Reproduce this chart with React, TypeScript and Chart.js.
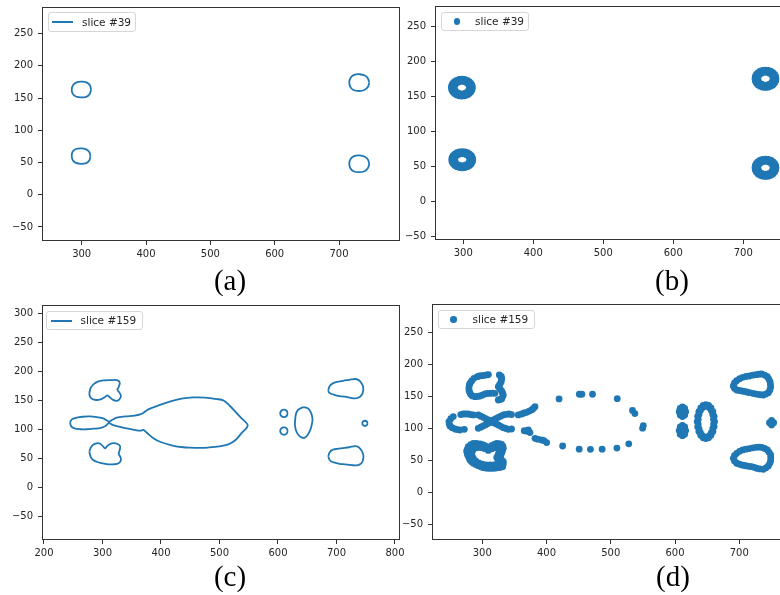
import React, { useEffect, useRef } from "react";
import { Chart, registerables } from "chart.js";

Chart.register(...registerables);

type P = [number, number];

const BLUE = "#1f77b4";

// ---------- tick labels ----------
const xTicksA = [300, 400, 500, 600, 700];
const yTicksA = [-50, 0, 50, 100, 150, 200, 250];
const xTicksB = [300, 400, 500, 600, 700];
const yTicksB = [-50, 0, 50, 100, 150, 200, 250];
const xTicksC = [200, 300, 400, 500, 600, 700, 800];
const yTicksC = [-50, 0, 50, 100, 150, 200, 250, 300];
const xTicksD = [300, 400, 500, 600, 700];
const yTicksD = [-50, 0, 50, 100, 150, 200, 250];

// ---------- (a) slice #39 contour ----------
const aUpperLeft: P[] = [[314.5,163],[313,169.5],[308,174],[300,175.5],[292,174.5],[286.5,170],[284.5,163.5],[286,157],[291,152.5],[299,151],[307,152],[312.5,156.5],[314.5,163]];
const aLowerLeft: P[] = [[313.5,60],[312,66],[307,70.5],[299,72],[291,71],[286,67],[284.5,60.5],[286,54],[291,49.5],[299,48],[307,49],[312,53.5],[313.5,60]];
const aUpperRight: P[] = [[747,174],[745,180.5],[740,185],[732,187],[723.5,186],[718,181.5],[716,174.5],[717.5,167.5],[722.5,162.5],[731,161],[739.5,162.5],[745,167.5],[747,174]];
const aLowerRight: P[] = [[747,48],[745,54.5],[740,59],[732,61],[723.5,60],[718,55.5],[716,48.5],[717.5,41.5],[722.5,36.5],[731,35],[739.5,36.5],[745,41.5],[747,48]];

// ---------- (b) slice #39 points ----------
const bUpperLeft: P[] = [[313,162],[312.5,165.1],[311,168],[308.6,170.5],[305.5,172.4],[301.9,173.6],[298,174],[294.1,173.6],[290.5,172.4],[287.4,170.5],[285,168],[283.5,165.1],[283,162],[283.5,158.9],[285,156],[287.4,153.5],[290.5,151.6],[294.1,150.4],[298,150],[301.9,150.4],[305.5,151.6],[308.6,153.5],[311,156],[312.5,158.9],
  [309,162],[307.5,166.5],[303.5,169.6],[298,170.8],[292.5,169.6],[288.5,166.5],[287,162],[288.5,157.5],[292.5,154.4],[298,153.2],[303.5,154.4],[307.5,157.5]];
const bLowerLeft: P[] = [[313.5,59],[313,62],[311.5,64.8],[309.1,67.1],[306,69],[302.4,70.1],[298.5,70.5],[294.6,70.1],[291,69],[287.9,67.1],[285.5,64.8],[284,62],[283.5,59],[284,56],[285.5,53.2],[287.9,50.9],[291,49],[294.6,47.9],[298.5,47.5],[302.4,47.9],[306,49],[309.1,50.9],[311.5,53.2],[313,56],
  [309.5,59],[308,63.3],[304,66.4],[298.5,67.5],[293,66.4],[289,63.3],[287.5,59],[289,54.7],[293,51.6],[298.5,50.5],[304,51.6],[308,54.7]];
const bUpperRight: P[] = [[746.7,174.7],[746.2,177.9],[744.7,180.9],[742.3,183.5],[739.2,185.4],[735.6,186.7],[731.7,187.1],[727.8,186.7],[724.2,185.4],[721.1,183.5],[718.7,180.9],[717.2,177.9],[716.7,174.7],[717.2,171.5],[718.7,168.5],[721.1,165.9],[724.2,164],[727.8,162.7],[731.7,162.3],[735.6,162.7],[739.2,164],[742.3,165.9],[744.7,168.5],[746.2,171.5],
  [742.7,174.7],[741.2,179.3],[737.2,182.6],[731.7,183.8],[726.2,182.6],[722.2,179.3],[720.7,174.7],[722.2,170.1],[726.2,166.8],[731.7,165.6],[737.2,166.8],[741.2,170.1]];
const bLowerRight: P[] = [[746.7,47.5],[746.2,50.7],[744.7,53.7],[742.3,56.3],[739.2,58.2],[735.6,59.5],[731.7,59.9],[727.8,59.5],[724.2,58.2],[721.1,56.3],[718.7,53.7],[717.2,50.7],[716.7,47.5],[717.2,44.3],[718.7,41.3],[721.1,38.7],[724.2,36.8],[727.8,35.5],[731.7,35.1],[735.6,35.5],[739.2,36.8],[742.3,38.7],[744.7,41.3],[746.2,44.3],
  [742.7,47.5],[741.2,52.1],[737.2,55.4],[731.7,56.6],[726.2,55.4],[722.2,52.1],[720.7,47.5],[722.2,42.9],[726.2,39.6],[731.7,38.4],[737.2,39.6],[741.2,42.9]];

// ---------- (c) slice #159 contour ----------
const cUpperLeftBlob: P[] = [[277.5,162.5],[280,172],[285.5,178.5],[292,182.5],[301.5,184.5],[315,185],[324.5,185],[329.5,181],[328,174],[325.5,168.5],[329,163.5],[331.5,157.5],[328.5,151.5],[323.5,149.3],[317.5,151.5],[312,156],[308,158.8],[303,155],[297,152],[289,150.8],[282.5,152.5],[278.5,157],[277.5,162.5]];
const cLowerLeftBlob: P[] = [[277.5,61.8],[280,69],[283.5,73.5],[290,76.3],[296,75.5],[301,71],[304.3,67.6],[308,71.5],[313,75],[318.6,76.5],[325,75.5],[330,71.6],[329.5,65],[327.7,58],[330.5,53],[331.5,47.5],[329,43],[325,41],[316,40],[307,40.3],[298,42],[290,44.6],[283.5,48],[279.8,53],[277.5,61.8]];
const cBody: P[] = [[244.5,112],[247.5,117.5],[256,120.5],[266,122],[278,122.5],[290,121.5],[300,119.5],[307,116],[311,113.5],[317,116.8],[324.3,120.5],[340,122.5],[355,124],[364.2,126],[371,129.5],[378.4,134.7],[395,141],[415,148],[435,153],[455.3,155.3],[475,155],[495,152.5],[507,150],[518,140.5],[527,131],[537,120],[548.2,107],[537,93],[527,81.5],[515,74.5],[500,71],[480,69],[466.7,68.5],[450,68.8],[438.2,69.5],[420,72.5],[398.3,79],[387,85],[378.4,92.2],[373,97],[369.9,99.3],[365,98],[361.3,98.2],[352,100],[341.4,102],[328,105],[316,108.5],[311,111],[305,106],[295.8,102.5],[285,101.5],[273,100.5],[262,100.5],[252,102],[246.5,105.5],[244.5,112]];
const cSmallUpper: P[] = [[616.6,127.8],[614.7,132.3],[610.2,134.2],[605.7,132.3],[603.8,127.8],[605.7,123.3],[610.2,121.4],[614.7,123.3],[616.6,127.8]];
const cSmallLower: P[] = [[616.6,97.4],[614.7,101.9],[610.2,103.8],[605.7,101.9],[603.8,97.4],[605.7,92.9],[610.2,91],[614.7,92.9],[616.6,97.4]];
const cOval: P[] = [[643.3,138.5],[650,137],[655,132],[658,124],[659,116.3],[657.5,107],[655,99],[651,91],[646,86],[640,86.5],[635,90.5],[631,98],[629,107.7],[629.5,118],[631,127.8],[635,134.5],[643.3,138.5]];
const cTiny: P[] = [[753.2,110.6],[751.9,113.8],[748.7,115.1],[745.5,113.8],[744.2,110.6],[745.5,107.4],[748.7,106.1],[751.9,107.4],[753.2,110.6]];
const cUpperRightBlob: P[] = [[686,168],[688.5,175],[693,179],[701,182],[711,183.8],[722,185.5],[731.6,187],[737.5,185.5],[742,181],[745.5,174],[745.5,166],[743,159.4],[738,155],[731.6,153.6],[722,155],[714.5,156.5],[705,157.5],[697.4,159.4],[690.5,161.5],[687,164],[686,168]];
const cLowerRightBlob: P[] = [[686,54.4],[688.5,61],[693,65],[701,66.8],[711,68],[722,69.5],[731.6,71.6],[737.5,70],[742,65],[745.5,58],[746,52],[744.5,45],[741,40.5],[735,38.3],[726,38.8],[714.5,40],[705,41],[697.4,42.9],[691,45],[687.5,49],[686,54.4]];

// ---------- (d) slice #159 points ----------
const dUpperLeftBlob: P[] = [[287,178.6],[292.2,181.3],[295.5,182.3],[299,182.8],[303,183.4],[306.7,183.9],[309.5,184.5],
  [283.4,174.5],[281,171],[279.8,168.2],[279.2,164.3],[279.2,160.4],[280.3,157],[281.8,153.6],
  [284.5,151.2],[288.6,150],[292.5,150.3],[296.4,151],[300.3,152.5],[304.2,154.2],[308,155],[311.9,155.2],[315.8,155.4],[319.7,155.2],
  [326.5,183.9],[329.5,181.5],[330.1,178.6],[329.6,175.5],[329.1,172.4],[327,169],[324.9,165.6],[327.5,162.2],[330.1,158.9],[331.6,155.8],[332.7,152.6],[331.4,149.5],[330.1,146.4],[327.5,145.6],[324.9,144.8]];
const dLowerLeftBlob: P[] = [[278.2,71.9],[282,75],[286,77.1],[291,77],[296.4,76],[300.5,75],[304.2,73.4],[307,71],[309.3,69.3],[312,71.5],[314.5,73.4],[318.5,75.5],[322.3,77.1],[326.5,76.5],[330.1,75.5],[332,72.5],[332.7,69.3],[331.5,65.5],[330.1,61.5],[328.5,57.5],[327.5,53.6],[330,51],[332.7,48.4],[332.5,44.5],[331.6,40.6],[328.5,39.5],[324.9,39],[321,38.5],[317.1,38],[313.2,38],[309.3,38],[305.5,38.5],[301.6,39],[297.7,40.5],[293.8,42.2],[290,44],[286,45.8],[283.3,48.4],[280.8,51],[279,55],[277.2,58.9],[276.4,62],[275.6,65.1],[276.9,68.5],
  [285.5,67.5],[291,70],[297,70.5],[303,69],[309.3,66],[315,68.5],[320,70.5],[324.5,69],[326,64],[324.5,59],[322.5,55],[324.5,49.5],[323.5,45],[318,43.5],[312,43.2],[306,43.5],[300,44.5],[294.5,46.5],[289.5,49.5],[286,53.5],[284,58],[284,63]];
const dCrossCluster: P[] = [[254.8,118.8],[251,115.5],[248.1,111],[248.5,107.5],[249.6,104.2],[253,101.5],[257.4,99.5],[261,98.5],[265.2,97.9],[272,99],
  [266.5,122],[270.4,122.9],[274.3,122.9],[278.2,122.9],[282,122],[286,121.4],
  [293.7,121.4],[297.6,119.5],[301.5,117.7],[305.4,115.6],[309.3,113.6],[313.2,111.5],[317.1,109.4],[321,107.5],[324.9,105.7],[328.8,103.6],[332.7,101.6],[336.5,100.3],[340.4,99],[345.5,99.5],
  [293.7,100.5],[297.6,102.3],[301.5,104.2],[305.4,106.2],[309.3,108.3],[313.2,111],[317.1,113.6],[321,115.6],[324.9,117.7],[328.8,119.5],[332.7,121.4],[337,122.2],[341.5,122.9],[345.5,122]];
const dNeck: P[] = [[356,121.4],[361.2,122.9],[365,124.5],[369,125.5],[373,127.5],[376.8,129.2],[379.5,131.5],[382,134.4],
  [365.3,96.9],[368.5,96],[371.6,97.9],[374.2,93.8],[382,84.9],[386,83.5],[392.3,82.3],[396,81.3],[400.1,78.2]];
const dSparse: P[] = [[419.5,146.5],[451,153.8],[455,153.8],[471.5,153.8],[510,146.8],[533.8,128.4],[537.5,123.5],[550.6,104.8],[549.5,100.8],[528,76.3],[509.5,69.6],[486.5,67.9],[468.3,67.7],[450.8,68],[425,72.9]];
const dTwinRings: P[] = [[616.5,126.5],[615,131.8],[611.5,134],[608,131.8],[606.5,126.5],[608,121.2],[611.5,119],[615,121.2],
  [616.5,97],[615,102.7],[611.5,105],[608,102.7],[606.5,97],[608,91.3],[611.5,89],[615,91.3]];
const dOval: P[] = [[661.5,111],[660.8,119.2],[658.9,126.6],[655.9,132.4],[652.2,136.2],[648,137.5],[643.8,136.2],[640.1,132.4],[637.1,126.6],[635.2,119.2],[634.5,111],[635.2,102.8],[637.1,95.4],[640.1,89.6],[643.8,85.8],[648,84.5],[652.2,85.8],[655.9,89.6],[658.9,95.4],[660.8,102.8],
  [659.9,114.8],[658.7,122.1],[656.5,128.3],[653.4,132.8],[649.9,135.2],[646.1,135.2],[642.6,132.8],[639.5,128.3],[637.3,122.1],[636.1,114.8],[636.1,107.2],[637.3,99.9],[639.5,93.7],[642.6,89.2],[646.1,86.8],[649.9,86.8],[653.4,89.2],[656.5,93.7],[658.7,99.9],[659.9,107.2]];
const dUpperRightBlob: P[] = [[690.7,166.7],[695.9,175],[705.4,180.2],[715.6,182.3],[726,184.4],[734.8,185.4],[743.6,181.3],[747.8,173.4],[748.8,164.6],[745.2,156.3],[737.4,152.6],[728.6,153.7],[720.8,155.2],[711.4,157.3],[703.7,158.9],[695.9,160.4],
  [692.5,171.5],[700.5,178],[710.5,181.5],[721,183.5],[730.5,185],[739.5,183.8],[746,177.5],[748.5,169],[747.5,160.2],[741.5,154],[733,153],[724.7,154.5],[716,156.3],[707.5,158.2],[699.8,159.7],[692.5,163]];
const dLowerRightBlob: P[] = [[690.7,53.7],[695.9,61.5],[705.4,66.7],[715.6,68.8],[726,70.8],[734.8,70.8],[743.6,66.7],[748.8,58.9],[748.8,50],[745.2,41.7],[737.4,36.5],[727,38.1],[719.2,40.6],[711.4,41.7],[703.7,43.3],[695.9,45.9],
  [692.5,58],[700.5,64.5],[710.5,68],[721,70],[730.5,71],[739.5,69],[746.5,63],[749,54.5],[747.5,45.8],[741.5,38.8],[732,37],[723,39.5],[715.3,41.2],[707.5,42.5],[699.8,44.6],[692.5,49.5]];
const dRightDot: P[] = [[747,109.4],[753.5,109.4],[750.3,113],[750.3,105.8],[750.3,109.4]];

// ---------- helpers ----------
const fmt = (v: number | string) => {
  const n = Number(v);
  return n < 0 ? "\u2212" + Math.abs(n) : String(n);
};

const lineSet = (pts: P[]) => ({
  data: pts.map(([x, y]) => ({ x, y })),
  showLine: true,
  borderColor: BLUE,
  backgroundColor: BLUE,
  borderWidth: 1.8,
  pointRadius: 0,
  pointHoverRadius: 0,
  tension: 0.35,
  fill: false,
});

const dotSet = (pts: P[]) => ({
  data: pts.map(([x, y]) => ({ x, y })),
  showLine: false,
  pointRadius: 3.4,
  pointHoverRadius: 3.4,
  pointBackgroundColor: BLUE,
  pointBorderColor: BLUE,
  pointBorderWidth: 0,
});

const framePlugin = {
  id: "frame",
  afterDraw(chart: any) {
    const { ctx, chartArea: a } = chart;
    ctx.save();
    ctx.strokeStyle = "#333";
    ctx.lineWidth = 1;
    ctx.strokeRect(a.left + 0.5, a.top + 0.5, a.right - a.left - 1, a.bottom - a.top - 1);
    ctx.restore();
  },
};

type Area = { l: number; t: number; r: number; b: number };

type PanelProps = {
  left: number;
  top: number;
  width: number;
  height: number;
  area: Area;
  xMin: number;
  xMax: number;
  yMin: number;
  yMax: number;
  xTicks: number[];
  yTicks: number[];
  datasets: any[];
  fontSize: number;
};

function Panel(p: PanelProps) {
  const ref = useRef<HTMLCanvasElement>(null);
  useEffect(() => {
    const font = { family: '"DejaVu Sans", sans-serif', size: p.fontSize };
    const grid = {
      display: true,
      drawOnChartArea: false,
      drawTicks: true,
      tickLength: 4,
      color: "#333",
      tickColor: "#333",
      lineWidth: 1,
    };
    const chart = new Chart(ref.current as HTMLCanvasElement, {
      type: "scatter",
      data: { datasets: p.datasets },
      options: {
        animation: false,
        responsive: false,
        events: [],
        layout: { padding: { left: 0, top: p.area.t, right: p.width - p.area.r, bottom: 0 } },
        plugins: { legend: { display: false }, tooltip: { enabled: false } },
        scales: {
          x: {
            type: "linear",
            min: p.xMin,
            max: p.xMax,
            afterBuildTicks: (s: any) => {
              s.ticks = p.xTicks.map((v) => ({ value: v }));
            },
            afterFit: (s: any) => {
              s.height = p.height - p.area.b;
              s.paddingLeft = 0;
              s.paddingRight = 0;
            },
            ticks: { callback: fmt, font, color: "#262626", padding: 3, maxRotation: 0, autoSkip: false },
            grid,
            border: { display: false },
          },
          y: {
            type: "linear",
            min: p.yMin,
            max: p.yMax,
            afterBuildTicks: (s: any) => {
              s.ticks = p.yTicks.map((v) => ({ value: v }));
            },
            afterFit: (s: any) => {
              s.width = p.area.l;
              s.paddingTop = 0;
              s.paddingBottom = 0;
            },
            ticks: { callback: fmt, font, color: "#262626", padding: 5, autoSkip: false },
            grid,
            border: { display: false },
          },
        },
      } as any,
      plugins: [framePlugin],
    });
    return () => chart.destroy();
  }, []);
  return (
    <canvas
      ref={ref}
      width={p.width}
      height={p.height}
      style={{ position: "absolute", left: p.left, top: p.top, width: p.width, height: p.height }}
    />
  );
}

function Legend(props: { left: number; top: number; width: number; height: number; kind: "line" | "dot"; label: string; markX: number; textX: number }) {
  const { left, top, width, height, kind, label, markX, textX } = props;
  return (
    <div
      style={{
        position: "absolute",
        left,
        top,
        width,
        height,
        boxSizing: "border-box",
        border: "1px solid #d6d6d6",
        borderRadius: 3,
        background: "rgba(255,255,255,0.85)",
      }}
    >
      {kind === "line" ? (
        <div style={{ position: "absolute", left: markX, top: height / 2 - 2, width: 21, height: 2, background: BLUE }} />
      ) : (
        <div style={{ position: "absolute", left: markX - 3.2, top: height / 2 - 4.2, width: 6.6, height: 6.6, borderRadius: "50%", background: BLUE }} />
      )}
      <div
        style={{
          position: "absolute",
          left: textX,
          top: 0,
          height: height - 2,
          lineHeight: `${height - 2}px`,
          fontFamily: '"DejaVu Sans", sans-serif',
          fontSize: 10.5,
          color: "#262626",
          whiteSpace: "nowrap",
        }}
      >
        {label}
      </div>
    </div>
  );
}

function Caption(props: { cx: number; top: number; text: string }) {
  return (
    <div
      style={{
        position: "absolute",
        left: props.cx - 40,
        top: props.top,
        width: 80,
        textAlign: "center",
        fontFamily: '"Liberation Serif", "Times New Roman", serif',
        fontSize: 29,
        lineHeight: "29px",
        color: "#000",
      }}
    >
      {props.text}
    </div>
  );
}

export default function App() {
  return (
    <div
      style={{
        position: "fixed",
        left: 0,
        top: 0,
        width: 780,
        height: 595,
        overflow: "hidden",
        background: "#fff",
      }}
    >
      <Panel
        left={0}
        top={0}
        width={400}
        height={262}
        area={{ l: 42, t: 7, r: 400, b: 241 }}
        xMin={238.3}
        xMax={794.8}
        yMin={-71.8}
        yMax={291.4}
        xTicks={xTicksA}
        yTicks={yTicksA}
        fontSize={10}
        datasets={[aUpperLeft, aLowerLeft, aUpperRight, aLowerRight].map(lineSet)}
      />
      <Panel
        left={400}
        top={0}
        width={400}
        height={262}
        area={{ l: 35, t: 6, r: 396, b: 240 }}
        xMin={259.6}
        xMax={775.3}
        yMin={-55.7}
        yMax={278.6}
        xTicks={xTicksB}
        yTicks={yTicksB}
        fontSize={10}
        datasets={[bUpperLeft, bLowerLeft, bUpperRight, bLowerRight].map(dotSet)}
      />
      <Panel
        left={400}
        top={295}
        width={400}
        height={267}
        area={{ l: 32, t: 9, r: 393, b: 245 }}
        xMin={221.7}
        xMax={783.6}
        yMin={-74}
        yMax={294.8}
        xTicks={xTicksD}
        yTicks={yTicksD}
        fontSize={10}
        datasets={[dUpperLeftBlob, dLowerLeftBlob, dCrossCluster, dNeck, dSparse, dTwinRings, dOval, dUpperRightBlob, dLowerRightBlob, dRightDot].map(dotSet)}
      />
      <Panel
        left={0}
        top={295}
        width={406}
        height={267}
        area={{ l: 42, t: 10, r: 400, b: 245 }}
        xMin={196.6}
        xMax={808.6}
        yMin={-90.1}
        yMax={314.3}
        xTicks={xTicksC}
        yTicks={yTicksC}
        fontSize={10}
        datasets={[cUpperLeftBlob, cLowerLeftBlob, cBody, cSmallUpper, cSmallLower, cOval, cTiny, cUpperRightBlob, cLowerRightBlob].map(lineSet)}
      />

      <Legend left={48} top={12} width={88} height={20} kind="line" label="slice #39" markX={3} textX={33} />
      <Legend left={441} top={12} width={88} height={19} kind="dot" label="slice #39" markX={15} textX={33} />
      <Legend left={46} top={311} width={97} height={19} kind="line" label="slice #159" markX={3.5} textX={33.5} />
      <Legend left={438} top={310} width={97} height={19} kind="dot" label="slice #159" markX={14.5} textX={33.5} />

      <Caption cx={230} top={266} text="(a)" />
      <Caption cx={672} top={266} text="(b)" />
      <Caption cx={230} top={562} text="(c)" />
      <Caption cx={673} top={562} text="(d)" />
    </div>
  );
}
